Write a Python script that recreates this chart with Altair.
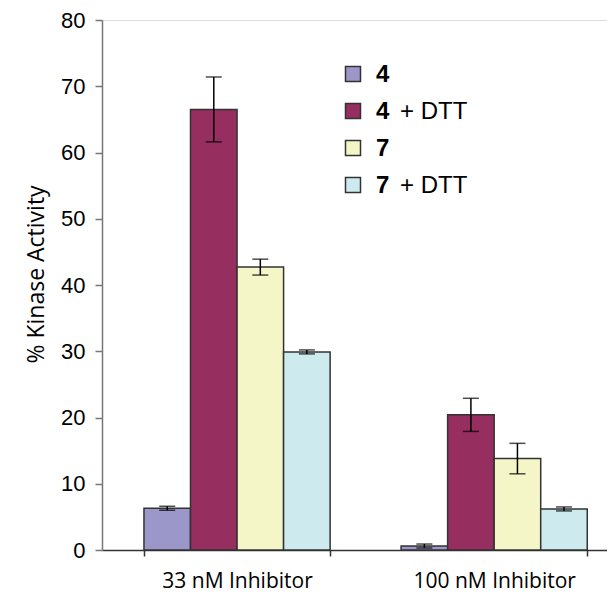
import altair as alt
import pandas as pd

categories = ["33 nM Inhibitor", "100 nM Inhibitor"]
series = ["4", "4 + DTT", "7", "7 + DTT"]
series_num = ["4", "4", "7", "7"]
series_suffix = ["", "+ DTT", "", "+ DTT"]
values_33 = [6.3, 66.5, 42.7, 29.9]
errors_33 = [0.3, 4.9, 1.2, 0.3]
values_100 = [0.6, 20.4, 13.8, 6.2]
errors_100 = [0.3, 2.5, 2.3, 0.3]
colors = ["#9c97c9", "#962e60", "#f4f6c7", "#cdeaef"]
y_ticks = [0, 10, 20, 30, 40, 50, 60, 70, 80]

rows = []
for cat, vals, errs in [(categories[0], values_33, errors_33), (categories[1], values_100, errors_100)]:
    for s, v, e in zip(series, vals, errs):
        rows.append({"cat": cat, "series": s, "value": v, "lo": v - e, "hi": v + e})
df = pd.DataFrame(rows)

x_scale = alt.Scale(paddingInner=0.276, paddingOuter=0.12, align=0.68)
x_enc = alt.X("cat:N", sort=categories, scale=x_scale,
              axis=alt.Axis(title=None, labelAngle=0, labelFont="Open Sans", labelFontSize=21,
                            labelColor="black", labelPadding=14, tickBand="extent", tickSize=6,
                            tickColor="#333", domainColor="#333", domainWidth=1.5, tickWidth=1.5))
xoff = alt.XOffset("series:N", sort=series, scale=alt.Scale(paddingInner=0, paddingOuter=0))
y_scale = alt.Scale(domain=[0, 80], nice=False)

bars = alt.Chart(df).mark_bar(stroke="#333333", strokeWidth=1.5).encode(
    x=x_enc,
    xOffset=xoff,
    y=alt.Y("value:Q", scale=y_scale,
            axis=alt.Axis(values=y_ticks, title="% Kinase Activity", titleFont="Open Sans",
                          titleFontSize=23, titleFontWeight="normal", titleColor="black",
                          titlePadding=12, titleY=254, labelFont="Liberation Sans", labelFontSize=22,
                          labelColor="black", labelPadding=10, tickSize=7, tickColor="#777",
                          domainColor="#777", domainWidth=1.5, tickWidth=1.5, grid=False)),
    color=alt.Color("series:N", sort=series, scale=alt.Scale(domain=series, range=colors), legend=None),
)

err_rule = alt.Chart(df).mark_rule(color="black", strokeWidth=1.5).encode(
    x=alt.X("cat:N", sort=categories), xOffset=xoff,
    y=alt.Y("lo:Q", scale=y_scale), y2="hi:Q",
)
err_lo = alt.Chart(df).mark_tick(color="black", thickness=1.5, size=16, orient="horizontal").encode(
    x=alt.X("cat:N", sort=categories), xOffset=xoff, y=alt.Y("lo:Q", scale=y_scale),
)
err_hi = alt.Chart(df).mark_tick(color="black", thickness=1.5, size=16, orient="horizontal").encode(
    x=alt.X("cat:N", sort=categories), xOffset=xoff, y=alt.Y("hi:Q", scale=y_scale),
)

legend_layers = []
for i, (s, num, suf, col) in enumerate(zip(series, series_num, series_suffix, colors)):
    ly = 54 + 37 * i
    ldf = pd.DataFrame({"series": [s], "num": [num], "suf": [suf]})
    sq = alt.Chart(ldf).mark_square(size=225, fill=col, stroke="#333", strokeWidth=1.5, opacity=1).encode(
        x=alt.value(251), y=alt.value(ly))
    t1 = alt.Chart(ldf).mark_text(align="left", baseline="middle", font="Liberation Sans", fontSize=24,
                                  fontWeight="bold", color="black").encode(
        x=alt.value(274), y=alt.value(ly + 1), text="num:N")
    legend_layers += [sq, t1]
    if suf:
        t2 = alt.Chart(ldf).mark_text(align="left", baseline="middle", font="Liberation Sans", fontSize=24,
                                      color="black").encode(
            x=alt.value(298), y=alt.value(ly + 1), text="suf:N")
        legend_layers.append(t2)

chart = alt.layer(bars, err_rule, err_lo, err_hi, *legend_layers).properties(
    width=505, height=530,
    autosize=alt.AutoSizeParams(type="none"),
    padding={"left": 94, "top": 12, "right": 0, "bottom": 43},
).configure_view(stroke=None).configure(background="white")

chart.save("out.html", embed_options={"renderer": "svg", "actions": False})
